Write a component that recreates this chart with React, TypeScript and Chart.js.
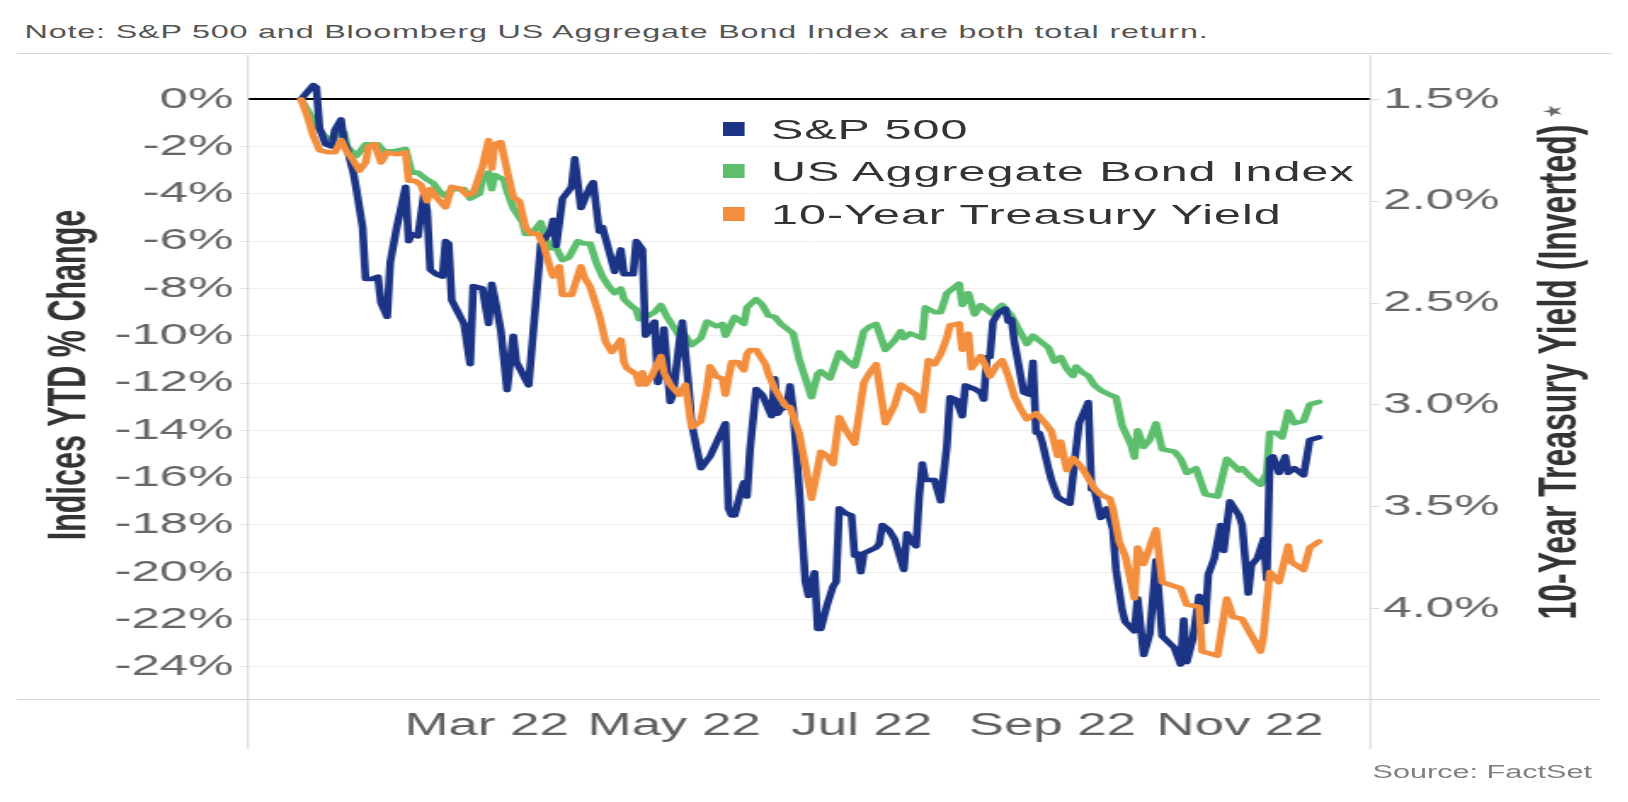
import React, { useEffect, useRef } from "react";
import { Chart, registerables } from "chart.js";

Chart.register(...registerables);

// ---------------- data ----------------
// x values are days since 1 Jan 2022
const monthTickDays = [59, 120, 181, 243, 304];
const monthTickLabels = ["Mar 22", "May 22", "Jul 22", "Sep 22", "Nov 22"];
const leftTickValues = [0, -2, -4, -6, -8, -10, -12, -14, -16, -18, -20, -22, -24];
const rightTickValues = [1.5, 2.0, 2.5, 3.0, 3.5, 4.0];

const seriesNames = ["S&P 500", "US Aggregate Bond Index", "10-Year Treasury Yield"];
const seriesColors = ["#1c3485", "#5dbf6d", "#f28e3e"];

const noteText = "Note: S&P 500 and Bloomberg US Aggregate Bond Index are both total return.";
const sourceText = "Source: FactSet";
const leftTitle = "Indices YTD % Change";
const rightTitle = "10-Year Treasury Yield (Inverted)";

const spxDays = [2, 6, 7, 8, 10, 12, 13, 15, 16, 17, 19, 20, 22, 23, 25, 27, 28, 30, 31, 33, 36, 37, 38, 40, 42, 43, 44, 46, 48, 49, 50, 51, 55, 57, 58, 61, 63, 64, 65, 67, 69, 71, 72, 76, 80, 83, 84, 85, 87, 90, 91, 93, 96, 97, 99, 100, 104, 106, 107, 110, 111, 113, 114, 117, 118, 119, 120, 122, 123, 125, 126, 128, 129, 132, 135, 140, 141, 142, 143, 145, 146, 147, 148, 150, 152, 153, 155, 156, 157, 158, 160, 161, 162, 164, 165, 166, 167, 169, 170, 171, 173, 175, 176, 177, 179, 181, 182, 183, 184, 185, 189, 190, 191, 193, 195, 198, 199, 200, 202, 203, 204, 205, 208, 210, 212, 213, 215, 217, 218, 221, 223, 224, 225, 226, 227, 229, 231, 232, 233, 234, 236, 237, 239, 240, 241, 242, 243, 245, 246, 248, 249, 252, 254, 255, 258, 259, 260, 262, 263, 264, 266, 267, 269, 270, 273, 274, 276, 278, 280, 282, 286, 288, 289, 290, 292, 294, 296, 297, 299, 301, 302, 304, 307, 308, 310, 311, 313, 315, 316, 317, 318, 320, 322, 323, 325, 326, 328, 330, 333];
const spxValues = [0, 0.6, 0.5, -1.2, -1.9, -2.0, -1.3, -0.85, -1.8, -2.1, -3.1, -3.8, -5.4, -7.6, -7.6, -7.5, -8.6, -9.2, -6.9, -5.5, -3.7, -6.0, -5.7, -5.8, -4.0, -4.7, -7.2, -7.4, -7.5, -6.0, -6.1, -8.5, -9.5, -11.2, -7.9, -8.0, -9.5, -7.8, -8.4, -9.8, -12.3, -10.0, -11.1, -12.1, -6.1, -5.6, -5.1, -6.2, -4.2, -3.7, -2.5, -4.6, -3.7, -3.5, -5.6, -5.4, -7.3, -6.35, -7.4, -7.4, -6.0, -6.35, -10.0, -9.4, -12.0, -11.6, -9.7, -12.8, -12.5, -10.3, -9.4, -12.1, -13.7, -15.6, -15.1, -13.7, -17.3, -17.6, -17.6, -16.6, -16.2, -16.8, -14.8, -12.25, -12.5, -12.8, -13.4, -11.8, -13.3, -13.1, -13.0, -12.1, -13.1, -16.5, -18.5, -20.4, -21.0, -20.0, -22.4, -22.4, -21.4, -20.6, -20.4, -17.3, -17.5, -17.6, -19.3, -19.2, -20.0, -19.2, -18.95, -18.8, -18.0, -18.2, -18.6, -19.9, -18.35, -18.6, -18.9, -16.8, -15.4, -16.1, -16.1, -17.0, -14.65, -12.6, -12.7, -13.4, -12.1, -12.25, -12.4, -12.7, -10.9, -10.9, -9.4, -9.0, -8.85, -9.4, -9.3, -10.3, -11.7, -12.4, -12.5, -11.1, -14.1, -14.1, -14.5, -15.6, -16.1, -16.8, -16.9, -17.1, -14.8, -13.7, -12.8, -16.5, -16.5, -17.7, -17.6, -17.3, -18.2, -19.9, -21.6, -22.1, -22.5, -21.1, -23.5, -22.6, -19.5, -22.7, -23.2, -23.9, -22.0, -23.8, -22.8, -21.0, -22.1, -20.1, -19.4, -18.0, -19.1, -17.0, -17.6, -18.0, -20.9, -19.7, -19.4, -18.6, -20.3, -15.2, -15.1, -15.8, -15.1, -15.8, -15.6, -15.7, -15.9, -14.4, -14.3];

const aggDays = [2, 8, 10, 12, 16, 17, 20, 23, 27, 29, 32, 36, 38, 40, 42, 43, 45, 47, 49, 51, 55, 57, 60, 61, 63, 64, 65, 68, 69, 71, 74, 75, 77, 80, 81, 83, 85, 87, 89, 92, 94, 96, 98, 100, 102, 104, 106, 107, 109, 111, 112, 115, 117, 119, 121, 125, 127, 129, 132, 134, 137, 139, 140, 143, 146, 147, 150, 152, 154, 156, 158, 160, 162, 164, 166, 168, 170, 171, 174, 177, 179, 182, 183, 185, 187, 189, 192, 195, 197, 198, 200, 204, 205, 208, 210, 212, 216, 217, 219, 221, 223, 225, 227, 229, 230, 233, 235, 237, 238, 240, 243, 245, 247, 249, 251, 253, 254, 256, 258, 260, 262, 265, 267, 268, 269, 272, 273, 274, 276, 278, 280, 282, 286, 288, 290, 293, 296, 300, 303, 307, 308, 311, 314, 316, 317, 319, 321, 323, 325, 328, 330, 333];
const aggValues = [0, -1.3, -1.6, -1.65, -1.4, -2.0, -2.4, -1.9, -1.9, -2.2, -2.2, -2.1, -3.1, -3.1, -3.3, -3.4, -3.55, -3.9, -4.1, -3.8, -3.8, -4.2, -4.0, -3.4, -3.1, -3.8, -3.2, -3.4, -3.9, -4.6, -5.2, -5.7, -5.7, -5.2, -5.7, -6.3, -6.3, -6.8, -6.7, -6.0, -6.1, -6.1, -6.9, -7.5, -7.9, -8.2, -8.0, -8.45, -8.7, -8.9, -9.3, -9.15, -9.0, -8.7, -9.2, -10.0, -10.0, -10.4, -10.1, -9.4, -9.6, -9.5, -10.0, -9.2, -9.5, -8.8, -8.45, -8.7, -9.15, -9.2, -9.5, -9.7, -9.9, -11.0, -11.8, -12.6, -11.6, -11.5, -11.8, -10.7, -11.0, -11.3, -10.85, -9.8, -9.6, -9.5, -10.6, -10.2, -9.8, -10.1, -9.9, -10.1, -8.8, -9.0, -9.0, -8.2, -7.8, -8.7, -8.2, -9.1, -8.7, -8.9, -9.1, -8.8, -8.7, -9.15, -9.65, -10.1, -10.35, -10.0, -10.3, -10.5, -11.1, -10.9, -11.4, -11.7, -11.3, -11.55, -11.7, -12.1, -12.3, -12.5, -12.6, -13.2, -13.8, -14.65, -15.15, -14.0, -14.7, -14.4, -13.7, -14.8, -14.9, -15.2, -15.8, -15.6, -16.7, -16.8, -15.2, -15.7, -15.6, -16.0, -16.3, -15.8, -14.1, -14.1, -14.3, -13.2, -13.7, -13.6, -12.9, -12.8];

const tsyDays = [2, 4, 6, 8, 11, 13, 15, 17, 19, 21, 23, 24, 26, 28, 30, 33, 36, 37, 39, 41, 43, 44, 46, 49, 51, 54, 56, 58, 61, 63, 64, 65, 67, 69, 71, 73, 75, 77, 79, 81, 83, 84, 86, 87, 90, 93, 94, 96, 99, 101, 103, 106, 107, 108, 111, 112, 113, 114, 116, 119, 120, 122, 125, 127, 129, 132, 134, 135, 137, 139, 140, 142, 144, 146, 147, 148, 150, 153, 154, 156, 158, 160, 161, 164, 166, 168, 170, 171, 173, 175, 177, 179, 182, 185, 187, 189, 192, 195, 197, 199, 202, 204, 206, 208, 210, 212, 213, 216, 217, 219, 220, 223, 224, 226, 228, 230, 232, 234, 236, 238, 241, 244, 246, 248, 249, 251, 253, 256, 258, 260, 262, 265, 266, 268, 270, 273, 274, 276, 280, 282, 286, 288, 290, 294, 295, 300, 303, 305, 308, 311, 314, 315, 317, 320, 323, 324, 328, 330, 333];
const tsyYields = [1.50, 1.58, 1.68, 1.75, 1.76, 1.76, 1.70, 1.76, 1.80, 1.85, 1.81, 1.73, 1.72, 1.81, 1.76, 1.77, 1.76, 1.90, 1.90, 1.92, 2.00, 1.94, 1.98, 2.03, 1.93, 1.94, 1.97, 1.96, 1.83, 1.70, 1.84, 1.72, 1.71, 1.85, 1.98, 2.00, 2.13, 2.16, 2.16, 2.22, 2.33, 2.37, 2.32, 2.46, 2.46, 2.32, 2.37, 2.42, 2.56, 2.69, 2.74, 2.68, 2.79, 2.82, 2.85, 2.90, 2.84, 2.90, 2.86, 2.76, 2.84, 2.90, 2.95, 2.90, 3.11, 3.08, 2.92, 2.81, 2.86, 2.87, 2.95, 2.79, 2.79, 2.83, 2.75, 2.73, 2.73, 2.80, 2.85, 2.92, 2.97, 3.01, 3.01, 3.14, 3.30, 3.46, 3.31, 3.23, 3.25, 3.29, 3.06, 3.12, 3.19, 2.89, 2.84, 2.80, 3.09, 3.00, 2.90, 2.92, 2.95, 3.03, 2.78, 2.80, 2.75, 2.67, 2.61, 2.60, 2.73, 2.65, 2.82, 2.76, 2.79, 2.86, 2.81, 2.78, 2.86, 2.96, 3.02, 3.07, 3.04, 3.09, 3.13, 3.25, 3.18, 3.32, 3.26, 3.31, 3.36, 3.41, 3.44, 3.46, 3.51, 3.67, 3.74, 3.95, 3.70, 3.78, 3.61, 3.87, 3.89, 3.90, 3.98, 3.99, 4.21, 4.23, 3.95, 4.04, 4.05, 4.13, 4.21, 4.13, 3.82, 3.87, 3.69, 3.77, 3.81, 3.70, 3.67];

// ---------------- layout ----------------
const PAGE_W = 1628;
const PAGE_H = 802;
const STRETCH = 1.7; // the reference is horizontally stretched
const W = PAGE_W / STRETCH;
const fx = (px: number) => px / STRETCH; // page x -> inner x

const FONT = "'Liberation Sans', Arial, Helvetica, sans-serif";
const PLOT_LEFT = fx(247.7);
const PLOT_RIGHT = fx(1369);
const PLOT_TOP = 56;
const PLOT_BOTTOM = 699;
const X_AXIS_H = 50;

const X_MIN = -15.25;
const X_MAX = 349.7;
const Y_MIN = -25.36;
const Y_MAX = 1.83;
const Y1_MIN = 1.2875;
const Y1_MAX = 4.443;

const legendRowsY = [129, 171, 214];

const toPoints = (xs: number[], ys: number[]) => xs.map((x, i) => ({ x, y: ys[i] }));

const framePlugin = {
  id: "frame",
  beforeDatasetsDraw(chart: any) {
    const { ctx, chartArea: a } = chart;
    ctx.save();
    ctx.lineWidth = 1;
    ctx.strokeStyle = "#d6d6d6";
    const line = (x1: number, y1: number, x2: number, y2: number) => {
      ctx.beginPath();
      ctx.moveTo(x1, y1);
      ctx.lineTo(x2, y2);
      ctx.stroke();
    };
    line(fx(17), 53.5, fx(1610), 53.5);
    line(fx(17), a.bottom + 0.5, fx(1598), a.bottom + 0.5);
    line(a.left, 55, a.left, 749);
    line(a.right, 55, a.right, 749);
    ctx.restore();
  },
  afterDraw(chart: any) {
    const { ctx } = chart;
    ctx.save();
    ctx.fillStyle = "#333333";
    ctx.textAlign = "center";
    ctx.textBaseline = "alphabetic";
    ctx.font = `bold 30.5px ${FONT}`;
    ctx.save();
    ctx.translate(fx(85), 375);
    ctx.rotate(-Math.PI / 2);
    ctx.fillText(leftTitle, 0, 0);
    ctx.restore();
    ctx.font = `bold 32px ${FONT}`;
    ctx.save();
    ctx.translate(fx(1574), 372);
    ctx.rotate(-Math.PI / 2);
    ctx.fillText(rightTitle, 0, 0);
    ctx.restore();
    ctx.fillStyle = "#6a6a6a";
    ctx.font = `15px ${FONT}`;
    ctx.textBaseline = "middle";
    ctx.save();
    ctx.translate(fx(1552), 112);
    ctx.rotate(-0.35);
    ctx.fillText("★", 0, 0);
    ctx.restore();
    ctx.restore();
  },
};

export default function App() {
  const canvasRef = useRef<HTMLCanvasElement | null>(null);

  useEffect(() => {
    const canvas = canvasRef.current;
    if (!canvas) return;
    const chart = new Chart(canvas, {
      type: "line",
      data: {
        datasets: [
          { label: seriesNames[0], data: toPoints(spxDays, spxValues), yAxisID: "y", borderColor: seriesColors[0], backgroundColor: seriesColors[0], order: 1 },
          { label: seriesNames[1], data: toPoints(aggDays, aggValues), yAxisID: "y", borderColor: seriesColors[1], backgroundColor: seriesColors[1], order: 2 },
          { label: seriesNames[2], data: toPoints(tsyDays, tsyYields), yAxisID: "y1", borderColor: seriesColors[2], backgroundColor: seriesColors[2], order: 0 },
        ],
      },
      options: {
        animation: false,
        responsive: true,
        maintainAspectRatio: false,
        events: [],
        layout: { padding: { top: PLOT_TOP, bottom: PAGE_H - PLOT_BOTTOM - X_AXIS_H, left: 0, right: 0 } },
        elements: {
          point: { radius: 0 },
          line: { borderWidth: 4.6, tension: 0, borderJoinStyle: "round", borderCapStyle: "round", fill: false },
        },
        plugins: { legend: { display: false }, tooltip: { enabled: false } },
        scales: {
          x: {
            type: "linear",
            min: X_MIN,
            max: X_MAX,
            afterBuildTicks: (s: any) => { s.ticks = monthTickDays.map((v) => ({ value: v })); },
            afterFit: (s: any) => { s.height = X_AXIS_H; },
            grid: { display: false, drawTicks: false },
            border: { display: false },
            ticks: {
              autoSkip: false,
              maxRotation: 0,
              labelOffset: 6,
              padding: 9,
              color: "#606060",
              font: { family: FONT, size: 31 },
              callback: (_v: any, i: number) => monthTickLabels[i],
            },
          },
          y: {
            type: "linear",
            position: "left",
            min: Y_MIN,
            max: Y_MAX,
            afterBuildTicks: (s: any) => { s.ticks = leftTickValues.map((v) => ({ value: v })); },
            afterFit: (s: any) => { s.width = PLOT_LEFT; },
            border: { display: false },
            grid: {
              color: (c: any) => (c.tick && c.tick.value === 0 ? "#000000" : "#eeeeee"),
              tickColor: (c: any) => (c.tick && c.tick.value === 0 ? "rgba(0,0,0,0)" : "#e4e4e4"),
              lineWidth: (c: any) => (c.tick && c.tick.value === 0 ? 2 : 1),
              tickLength: 5,
            },
            ticks: {
              padding: 3.5,
              color: "#666666",
              font: { family: FONT, size: 30 },
              callback: (v: any) => `${v}%`,
            },
          },
          y1: {
            type: "linear",
            position: "right",
            reverse: true,
            min: Y1_MIN,
            max: Y1_MAX,
            afterBuildTicks: (s: any) => { s.ticks = rightTickValues.map((v) => ({ value: v })); },
            afterFit: (s: any) => { s.width = W - PLOT_RIGHT; },
            border: { display: false },
            grid: { drawOnChartArea: false, color: "#dddddd", tickLength: 5 },
            ticks: {
              padding: 2.5,
              color: "#666666",
              font: { family: FONT, size: 30 },
              callback: (v: any) => `${Number(v).toFixed(1)}%`,
            },
          },
        },
      } as any,
      plugins: [framePlugin],
    });
    return () => chart.destroy();
  }, []);

  return (
    <div
      style={{
        position: "fixed",
        left: 0,
        top: 0,
        width: W,
        height: PAGE_H,
        transform: `scaleX(${STRETCH})`,
        transformOrigin: "0 0",
        background: "#ffffff",
        fontFamily: FONT,
      }}
    >
      <div
        style={{
          position: "absolute",
          left: fx(24.6),
          top: 21.7,
          lineHeight: "20px",
          fontSize: 19,
          letterSpacing: "0.48px",
          color: "#555555",
          whiteSpace: "nowrap",
        }}
      >
        {noteText}
      </div>
      <div style={{ position: "absolute", left: 0, top: 0, width: W, height: PAGE_H }}>
        <canvas ref={canvasRef} />
      </div>
      {seriesNames.map((name, i) => (
        <div
          key={name}
          style={{
            position: "absolute",
            left: fx(722),
            top: legendRowsY[i] - 20,
            height: 40,
            display: "flex",
            alignItems: "center",
            whiteSpace: "nowrap",
          }}
        >
          <span style={{ display: "inline-block", width: fx(23), height: 14, background: seriesColors[i] }} />
          <span
            style={{
              marginLeft: fx(771) - fx(722) - fx(23),
              fontSize: 28.5,
              letterSpacing: "0.6px",
              color: "#333333",
              lineHeight: "40px",
            }}
          >
            {name}
          </span>
        </div>
      ))}
      <div
        style={{
          position: "absolute",
          right: W - fx(1592),
          top: 761.5,
          lineHeight: "20px",
          fontSize: 18,
          color: "#808080",
          whiteSpace: "nowrap",
        }}
      >
        {sourceText}
      </div>
    </div>
  );
}
